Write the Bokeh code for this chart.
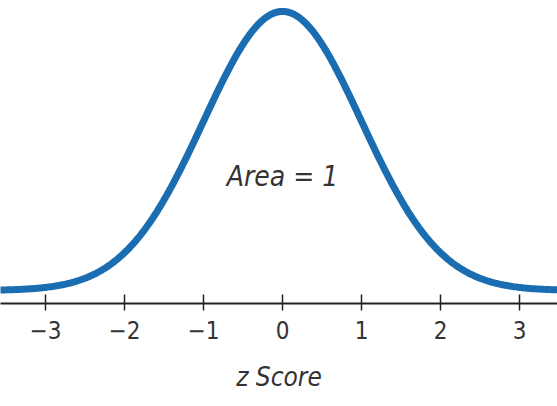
import numpy as np
from bokeh.plotting import figure
from bokeh.models import FixedTicker, Label
from bokeh.embed import file_html
from bokeh.resources import INLINE

# Standard normal density sampled along the z axis
z_values = np.linspace(-3.6, 3.6, 400)
density = np.exp(-0.5 * z_values ** 2) / np.sqrt(2 * np.pi)

tick_positions = [-3, -2, -1, 0, 1, 2, 3]
tick_labels = ["\u22123", "\u22122", "\u22121", "0", "1", "2", "3"]
area_text = "Area = 1"
axis_title = "z Score"

FONT = "'DejaVu Sans Condensed', 'Noto Sans', sans-serif"

p = figure(
    width=557, height=406,
    x_range=(-3.57, 3.481), y_range=(-0.0186, 0.4146),
    output_backend="svg", toolbar_location=None,
    y_axis_location=None,
)
p.min_border_left = 0
p.min_border_right = 0
p.min_border_top = 0
p.min_border_bottom = 103
p.outline_line_color = None
p.grid.visible = False
p.background_fill_color = "white"
p.border_fill_color = "white"

p.line(z_values, density, line_color="#1a6db0", line_width=7, line_cap="round")

ax = p.xaxis[0]
ax.ticker = FixedTicker(ticks=tick_positions, minor_ticks=[])
ax.major_label_overrides = {t: lab for t, lab in zip(tick_positions, tick_labels)}
ax.axis_line_color = "#222222"
ax.axis_line_width = 2
ax.major_tick_line_color = "#222222"
ax.major_tick_line_width = 1.5
ax.major_tick_in = 9
ax.major_tick_out = 7
ax.minor_tick_line_color = None
ax.major_label_text_font = FONT
ax.major_label_text_font_size = "24px"
ax.major_label_text_color = "#333333"
ax.major_label_standoff = 10
ax.axis_label = axis_title
ax.axis_label_text_font = FONT
ax.axis_label_text_font_style = "italic"
ax.axis_label_text_font_size = "26px"
ax.axis_label_text_color = "#333333"
ax.axis_label_standoff = 20

p.add_layout(Label(
    x=0, y=0.163, text=area_text,
    text_font=FONT, text_font_style="italic", text_font_size="28px",
    text_color="#333333", text_align="center", text_baseline="middle",
))

open("out.html", "w").write(file_html(p, INLINE))
